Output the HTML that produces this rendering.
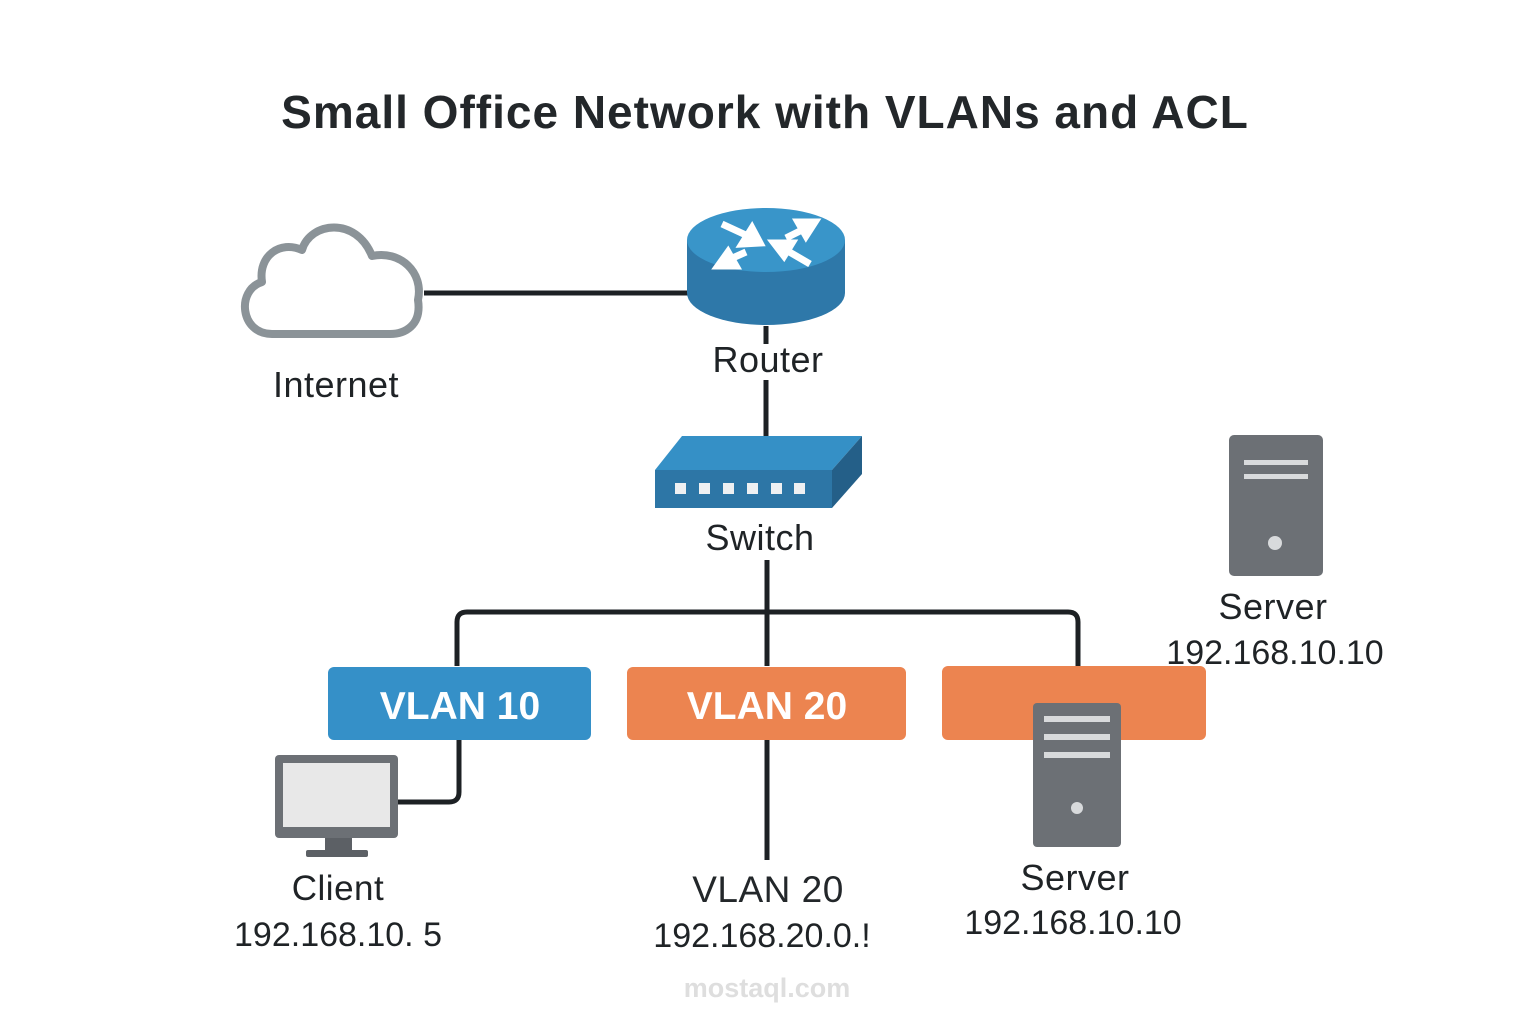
<!DOCTYPE html>
<html><head><meta charset="utf-8"><style>
html,body{margin:0;padding:0;background:#fff;}
svg{display:block;}
text{font-family:"Liberation Sans","DejaVu Sans",sans-serif;text-anchor:middle;}
</style></head><body>
<svg width="1536" height="1024" viewBox="0 0 1536 1024">
<text x="765" y="128" font-size="46" font-weight="bold" letter-spacing="1" style="fill:#23272a">Small Office Network with VLANs and ACL</text>

<!-- cloud -->
<path d="M272,334 C240,334 236,290 262,282 C258,256 280,240 302,250 C310,222 356,216 372,256 C400,250 424,272 418,300 C422,326 404,334 390,334 Z" fill="#fff" stroke="#8b9398" stroke-width="8" stroke-linejoin="round"/>
<text x="336" y="397" font-size="36" letter-spacing="0.5" style="fill:#1f2326">Internet</text>

<line x1="424" y1="293" x2="692" y2="293" stroke="#1d2124" stroke-width="5"/>

<!-- router -->
<path d="M687,240 L687,293 A79,32 0 0 0 845,293 L845,240 Z" fill="#2e78a9"/>
<ellipse cx="766" cy="240" rx="79" ry="32" fill="#3995c9"/>
<g stroke="#fff" stroke-width="7" stroke-linecap="butt" fill="#fff">
<line x1="722" y1="224" x2="748" y2="236"/><polygon points="760,243 742,244 752,228"/>
<line x1="786" y1="238" x2="806" y2="228"/><polygon points="815,222 798,222 806,236"/>
<line x1="746" y1="252" x2="728" y2="260"/><polygon points="718,266 736,266 728,252"/>
<line x1="810" y1="264" x2="786" y2="250"/><polygon points="774,243 792,243 784,256"/>
</g>
<line x1="766" y1="326" x2="766" y2="344" stroke="#1d2124" stroke-width="5"/>
<text x="768" y="372" font-size="36" letter-spacing="0.5" style="fill:#1f2326">Router</text>
<line x1="766" y1="380" x2="766" y2="437" stroke="#1d2124" stroke-width="5"/>

<!-- switch -->
<polygon points="682,436 862,436 832,470 655,470" fill="#3590c6"/>
<rect x="655" y="470" width="177" height="38" fill="#2d76a6"/>
<polygon points="832,470 862,436 862,474 832,508" fill="#245f88"/>
<g fill="#eef0f2">
<rect x="675" y="483" width="11" height="11"/><rect x="699" y="483" width="11" height="11"/><rect x="723" y="483" width="11" height="11"/><rect x="747" y="483" width="11" height="11"/><rect x="771" y="483" width="11" height="11"/><rect x="794" y="483" width="11" height="11"/>
</g>
<text x="760" y="550" font-size="36" letter-spacing="0.5" style="fill:#1f2326">Switch</text>

<g fill="none" stroke="#1d2124" stroke-width="5">
<line x1="767" y1="560" x2="767" y2="666"/>
<path d="M457,666 L457,622 Q457,612 467,612 L1068,612 Q1078,612 1078,622 L1078,666"/>
<path d="M459,740 L459,792 Q459,802 449,802 L398,802"/>
<line x1="767" y1="740" x2="767" y2="860"/>
</g>

<!-- VLAN boxes -->
<rect x="328" y="667" width="263" height="73" rx="6" fill="#3590c8"/>
<text x="460" y="719" font-size="39" font-weight="bold" style="fill:#ffffff">VLAN 10</text>
<rect x="627" y="667" width="279" height="73" rx="6" fill="#ec8450"/>
<text x="767" y="719" font-size="39" font-weight="bold" style="fill:#ffffff">VLAN 20</text>
<rect x="942" y="666" width="264" height="74" rx="6" fill="#ec8450"/>

<!-- monitor -->
<rect x="275" y="755" width="123" height="83" rx="4" fill="#6c7075"/>
<rect x="283" y="763" width="107" height="64" fill="#e8e8e8"/>
<rect x="325" y="838" width="27" height="13" fill="#5c6065"/>
<rect x="306" y="850" width="62" height="7" rx="2" fill="#5c6065"/>
<text x="338" y="900" font-size="35" letter-spacing="0.5" style="fill:#1f2326">Client</text>
<text x="338" y="946" font-size="34" style="fill:#1f2326">192.168.10. 5</text>

<text x="768" y="902" font-size="37" letter-spacing="0.5" style="fill:#23272a">VLAN 20</text>
<text x="762" y="947" font-size="34" style="fill:#1f2326">192.168.20.0.!</text>

<!-- server in box -->
<rect x="1033" y="703" width="88" height="144" rx="4" fill="#6c7075"/>
<rect x="1044" y="716" width="66" height="6" fill="#d8dadc"/>
<rect x="1044" y="734" width="66" height="6" fill="#d8dadc"/>
<rect x="1044" y="752" width="66" height="6" fill="#d8dadc"/>
<circle cx="1077" cy="808" r="6" fill="#d8dadc"/>
<text x="1075" y="890" font-size="36" letter-spacing="0.5" style="fill:#1f2326">Server</text>
<text x="1073" y="934" font-size="34" style="fill:#1f2326">192.168.10.10</text>

<!-- top right server -->
<rect x="1229" y="435" width="94" height="141" rx="5" fill="#6c7075"/>
<rect x="1244" y="460" width="64" height="5" fill="#d8dadc"/>
<rect x="1244" y="474" width="64" height="5" fill="#d8dadc"/>
<circle cx="1275" cy="543" r="7" fill="#d8dadc"/>
<text x="1273" y="619" font-size="36" letter-spacing="0.5" style="fill:#1f2326">Server</text>
<text x="1275" y="664" font-size="34" style="fill:#1f2326">192.168.10.10</text>

<text x="767" y="997" font-size="27" font-weight="bold" style="fill:#dedede">mostaql.com</text>
</svg>
</body></html>
